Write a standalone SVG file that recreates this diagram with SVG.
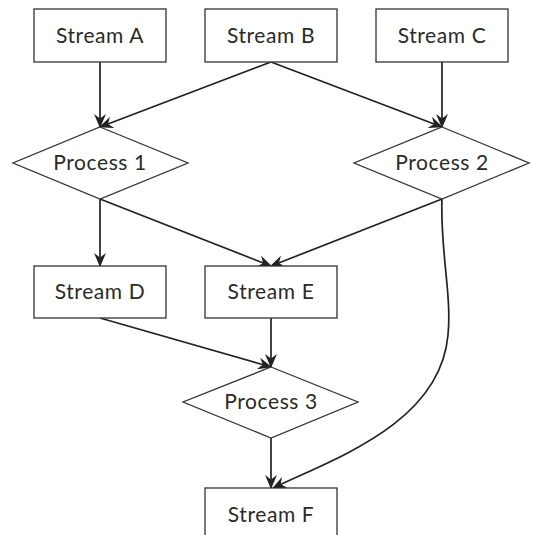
<svg xmlns="http://www.w3.org/2000/svg" width="536" height="535" viewBox="0 0 536 535">
<style>
.box{fill:#fff;stroke:#333;stroke-width:1.3}
.lbl{font-family:Lato,"Open Sans",sans-serif;font-size:21px;letter-spacing:0.6px;fill:#2a2a2a;text-anchor:middle}
.edge{fill:none;stroke:#222;stroke-width:1.7}
</style>
<defs>
<marker id="arr" viewBox="0 0 14 12" refX="13" refY="6" markerWidth="14" markerHeight="12" markerUnits="userSpaceOnUse" orient="auto">
<path d="M0,0 L14,6 L0,12 L4.5,6 z" fill="#222"/>
</marker>
</defs>
<rect width="536" height="535" fill="#fff"/>
<g id="connectors">
<line class="edge" x1="100" y1="62" x2="100" y2="127" marker-end="url(#arr)"/>
<line class="edge" x1="271" y1="62" x2="100" y2="127" marker-end="url(#arr)"/>
<line class="edge" x1="271" y1="62" x2="442" y2="127" marker-end="url(#arr)"/>
<line class="edge" x1="442" y1="62" x2="442" y2="127" marker-end="url(#arr)"/>
<line class="edge" x1="100" y1="199" x2="100" y2="266" marker-end="url(#arr)"/>
<line class="edge" x1="100" y1="199" x2="271" y2="266" marker-end="url(#arr)"/>
<line class="edge" x1="442" y1="199" x2="271" y2="266" marker-end="url(#arr)"/>
<line class="edge" x1="271" y1="318" x2="271" y2="367" marker-end="url(#arr)"/>
<line class="edge" x1="100" y1="318" x2="271" y2="367" marker-end="url(#arr)"/>
<line class="edge" x1="271" y1="438" x2="271" y2="488" marker-end="url(#arr)"/>
<path class="edge" d="M442,199 C440,250 452,295 448,335 C440,425 330,460 273,488" marker-end="url(#arr)"/>
</g>
<g id="streamA"><rect class="box" x="34" y="9" width="132" height="53"/><text class="lbl" x="100" y="43">Stream A</text></g>
<g id="streamB"><rect class="box" x="205" y="9" width="132" height="53"/><text class="lbl" x="271" y="43">Stream B</text></g>
<g id="streamC"><rect class="box" x="376" y="9" width="132" height="53"/><text class="lbl" x="442" y="43">Stream C</text></g>
<g id="process1"><polygon class="box" points="100,127 188,163 100,199 13,163"/><text class="lbl" x="100" y="170">Process 1</text></g>
<g id="process2"><polygon class="box" points="442,127 529,163 442,199 354,163"/><text class="lbl" x="442" y="170">Process 2</text></g>
<g id="streamD"><rect class="box" x="34" y="266" width="132" height="52"/><text class="lbl" x="100" y="299">Stream D</text></g>
<g id="streamE"><rect class="box" x="205" y="266" width="132" height="52"/><text class="lbl" x="271" y="299">Stream E</text></g>
<g id="process3"><polygon class="box" points="271,367 358,402 271,438 183,402"/><text class="lbl" x="271" y="409">Process 3</text></g>
<g id="streamF"><rect class="box" x="205" y="488" width="132" height="53"/><text class="lbl" x="271" y="522">Stream F</text></g>
</svg>
